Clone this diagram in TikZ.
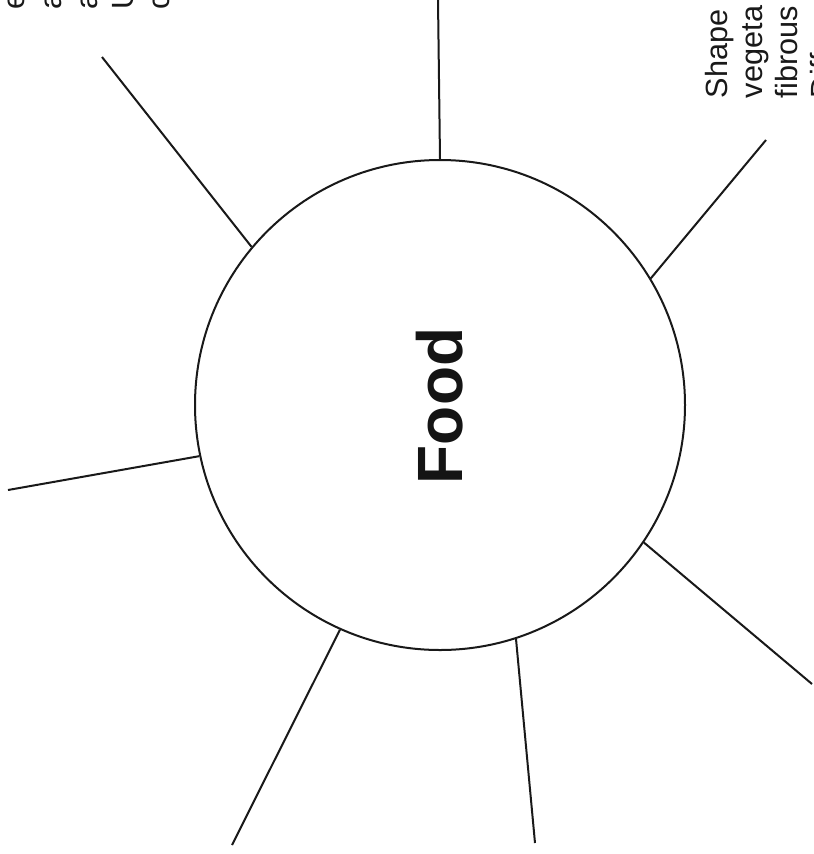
\documentclass[tikz,border=0pt]{standalone}
\usepackage{fontspec}
\setmainfont{Liberation Sans}
\usetikzlibrary{shapes.geometric}
\begin{document}
\begin{tikzpicture}[x=0.75pt,y=-0.75pt,
  spoke/.style={line width=1.5pt,draw=black!90},
  rtext/.style={rotate=90,anchor=base west,inner sep=0pt,outer sep=0pt,font=\fontsize{23pt}{27pt}\selectfont,text=black!90}]
\useasboundingbox (0,0) rectangle (814,854);
\clip (0,0) rectangle (814,854);
\fill[white] (0,0) rectangle (814,854);
\node[circle,draw=black!90,line width=1.5pt,minimum size=490*0.75pt,inner sep=0pt] (food) at (440,405) {};
\node[rotate=90,inner sep=0pt,font=\fontsize{48pt}{52pt}\selectfont\bfseries,text=black!92] (foodlabel) at (440,406) {Food};
\coordinate (e1) at (438,0);
\coordinate (e2) at (102,57);
\coordinate (e3) at (766,140);
\coordinate (e4) at (8,490);
\coordinate (e5) at (812,684);
\coordinate (e6) at (232,845);
\coordinate (e7) at (535,843);
\draw[spoke] (food.90) -- (e1);
\draw[spoke] (food.140) -- (e2);
\draw[spoke] (food.31.4) -- (e3);
\draw[spoke] (food.192.1) -- (e4);
\draw[spoke] (food.326.9) -- (e5);
\draw[spoke] (food.246.3) -- (e6);
\draw[spoke] (food.288.3) -- (e7);
% text fragments cut off at the edges
\node[rtext] (tl1) at (25,9) {e};
\node[rtext] (tl2) at (61,9) {a};
\node[rtext] (tl3) at (97,9) {a};
\node[rtext] (tl4) at (133,9) {U};
\node[rtext] (tl5) at (169,9) {c};
\node[rtext] (tr1) at (727,98) {Shape};
\node[rtext] (tr2) at (762,98) {vegeta};
\node[rtext] (tr3) at (797,98) {fibrous};
\node[rtext] (tr4) at (832,98) {Diff};
\end{tikzpicture}
\end{document}
